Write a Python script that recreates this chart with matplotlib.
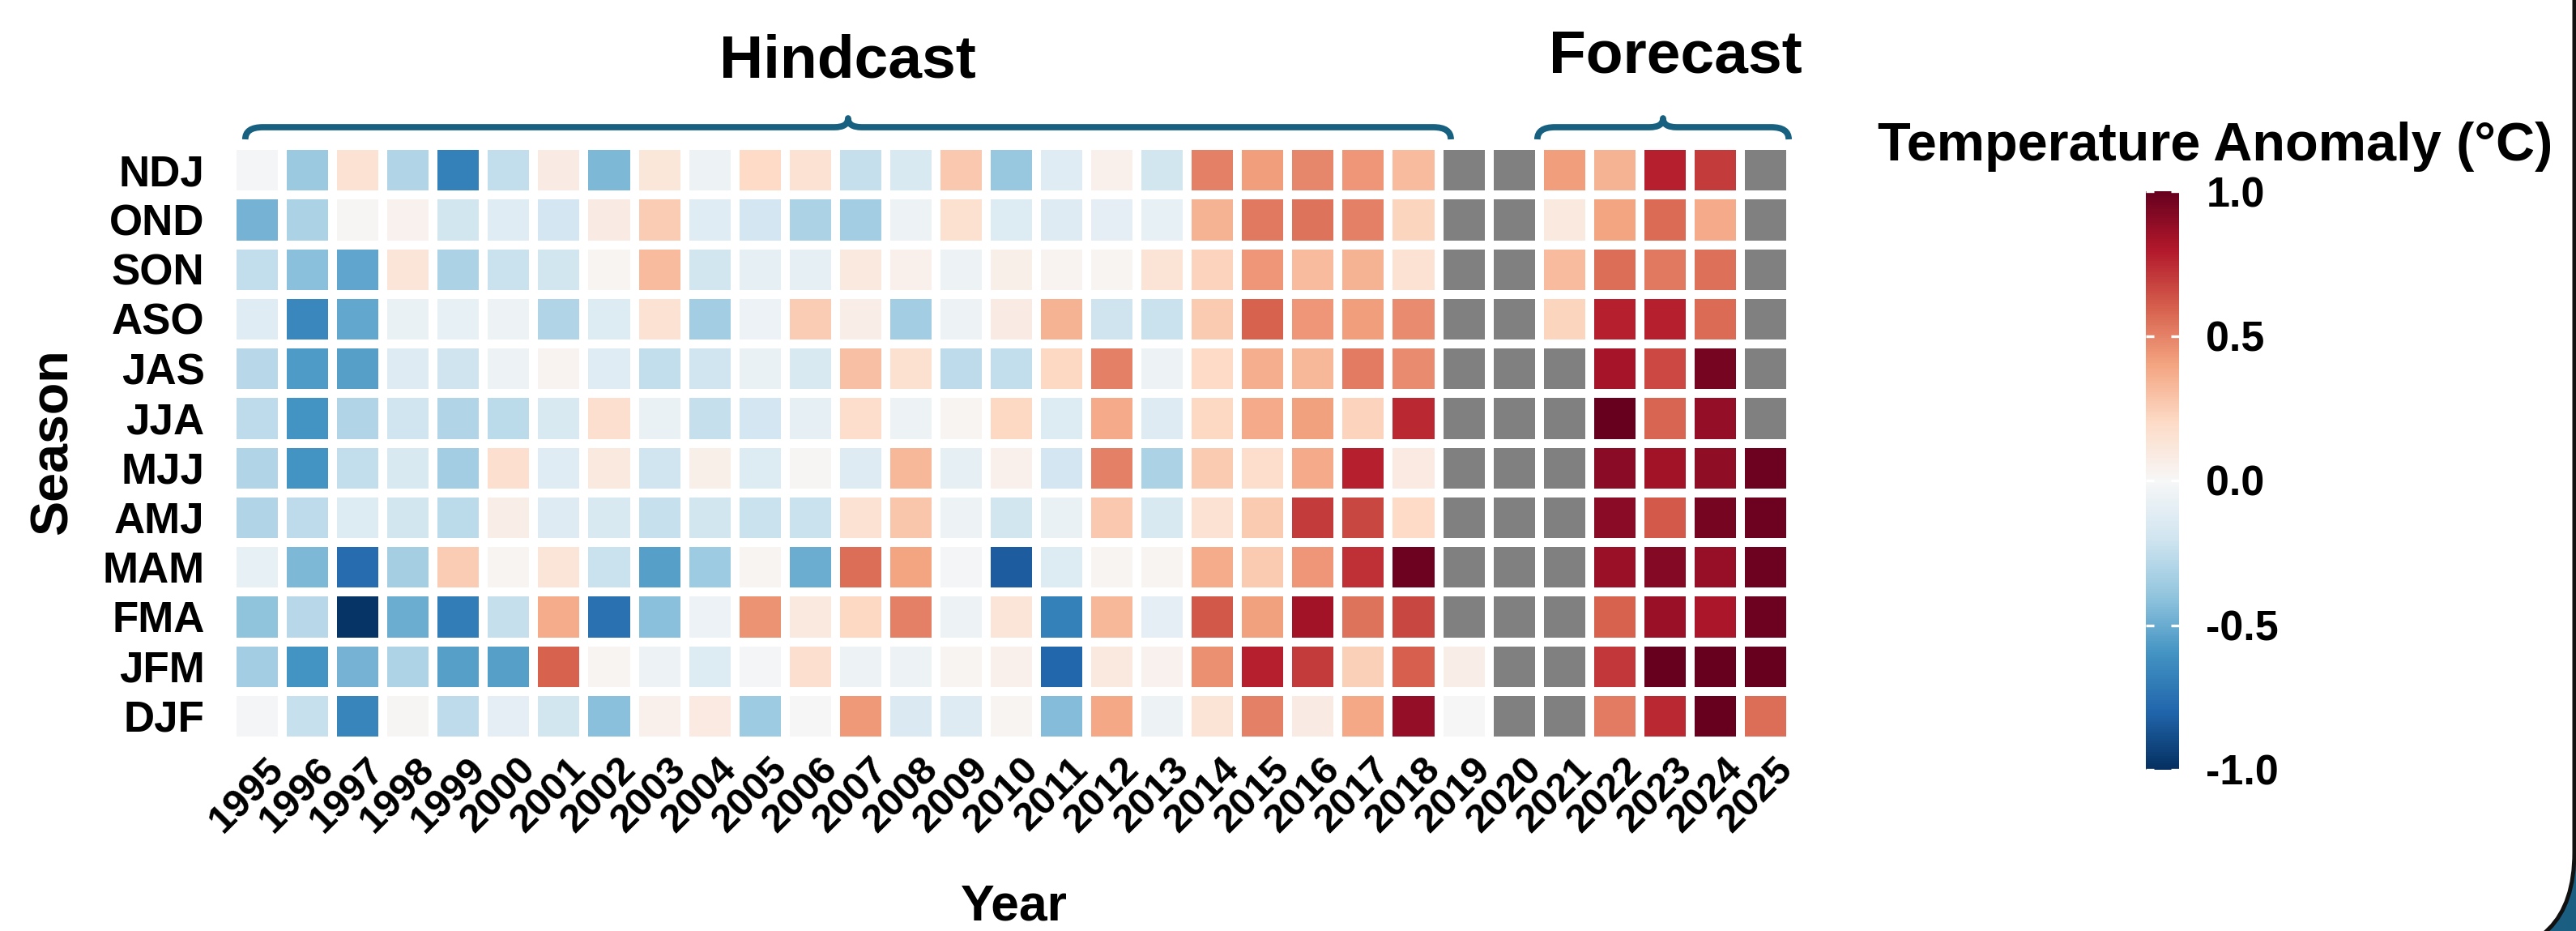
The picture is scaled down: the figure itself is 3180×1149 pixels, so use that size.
import numpy as np
import matplotlib
matplotlib.use("Agg")
import matplotlib.pyplot as plt
import matplotlib.transforms as mtransforms
from matplotlib.path import Path
from matplotlib.patches import PathPatch, FancyBboxPatch, Rectangle

# ---------------------------------------------------------------- data
years = list(range(1995, 2026))
seasons = ["NDJ", "OND", "SON", "ASO", "JAS", "JJA",
           "MJJ", "AMJ", "MAM", "FMA", "JFM", "DJF"]
nan = np.nan

# temperature anomaly (degC) per season, 1995 ... 2025 (nan = no value)
ndj = [-0.02, -0.37, 0.15, -0.30, -0.68, -0.25, 0.08, -0.45, 0.12, -0.05, 0.20,
       0.15, -0.24, -0.16, 0.27, -0.38, -0.12, 0.05, -0.19, 0.50, 0.42, 0.49,
       0.44, 0.32, nan, nan, 0.42, 0.35, 0.78, 0.70, nan]
ond = [-0.47, -0.32, 0.01, 0.04, -0.19, -0.12, -0.18, 0.08, 0.25, -0.12, -0.18,
       -0.32, -0.35, -0.05, 0.16, -0.14, -0.13, -0.10, -0.08, 0.35, 0.53, 0.54,
       0.50, 0.22, nan, nan, 0.10, 0.40, 0.57, 0.38, nan]
son = [-0.25, -0.42, -0.53, 0.13, -0.32, -0.22, -0.19, 0.02, 0.32, -0.19, -0.09,
       -0.09, 0.10, 0.05, -0.05, 0.06, 0.03, 0.02, 0.14, 0.23, 0.44, 0.32,
       0.35, 0.15, nan, nan, 0.32, 0.56, 0.53, 0.55, nan]
aso = [-0.12, -0.65, -0.52, -0.07, -0.08, -0.05, -0.30, -0.14, 0.15, -0.35, -0.06,
       0.25, 0.07, -0.35, -0.05, 0.08, 0.35, -0.21, -0.22, 0.26, 0.59, 0.44,
       0.42, 0.47, nan, nan, 0.22, 0.78, 0.78, 0.57, nan]
jas = [-0.28, -0.57, -0.55, -0.13, -0.21, -0.05, 0.03, -0.12, -0.25, -0.20, -0.07,
       -0.16, 0.30, 0.16, -0.26, -0.25, 0.21, 0.50, -0.05, 0.20, 0.36, 0.33,
       0.52, 0.47, nan, nan, nan, 0.83, 0.66, 0.96, nan]
jja = [-0.26, -0.60, -0.30, -0.20, -0.30, -0.27, -0.16, 0.17, -0.07, -0.24, -0.18,
       -0.09, 0.18, -0.05, 0.02, 0.21, -0.14, 0.38, -0.13, 0.21, 0.38, 0.41,
       0.23, 0.75, nan, nan, nan, 1.00, 0.58, 0.88, nan]
mjj = [-0.30, -0.60, -0.25, -0.16, -0.35, 0.17, -0.12, 0.10, -0.20, 0.06, -0.14,
       0.01, -0.13, 0.33, -0.09, 0.05, -0.18, 0.50, -0.32, 0.26, 0.18, 0.38,
       0.78, 0.09, nan, nan, nan, 0.90, 0.84, 0.89, 0.98]
amj = [-0.30, -0.26, -0.14, -0.19, -0.27, 0.07, -0.13, -0.16, -0.23, -0.19, -0.22,
       -0.22, 0.15, 0.28, -0.05, -0.19, -0.07, 0.27, -0.16, 0.15, 0.26, 0.70,
       0.67, 0.20, nan, nan, nan, 0.90, 0.61, 0.96, 0.98]
mam = [-0.08, -0.45, -0.77, -0.34, 0.25, 0.02, 0.13, -0.22, -0.55, -0.36, 0.02,
       -0.50, 0.56, 0.40, -0.02, -0.83, -0.14, 0.02, 0.02, 0.37, 0.26, 0.44,
       0.73, 0.98, nan, nan, nan, 0.86, 0.92, 0.87, 0.98]
fma = [-0.40, -0.28, -0.98, -0.50, -0.70, -0.24, 0.37, -0.75, -0.42, -0.06, 0.45,
       0.10, 0.21, 0.50, -0.05, 0.13, -0.68, 0.33, -0.10, 0.62, 0.41, 0.84,
       0.54, 0.67, nan, nan, nan, 0.59, 0.86, 0.82, 0.98]
jfm = [-0.35, -0.60, -0.47, -0.31, -0.55, -0.55, 0.59, 0.02, -0.05, -0.14, -0.02,
       0.17, -0.05, -0.05, 0.02, 0.05, -0.79, 0.10, 0.04, 0.46, 0.78, 0.70,
       0.24, 0.60, 0.07, nan, nan, 0.71, 1.00, 1.00, 1.00]
djf = [-0.02, -0.23, -0.66, 0.01, -0.26, -0.10, -0.19, -0.42, 0.05, 0.09, -0.36,
       0.00, 0.43, -0.15, -0.13, 0.02, -0.43, 0.39, -0.05, 0.14, 0.50, 0.08,
       0.39, 0.88, 0.00, nan, nan, 0.52, 0.75, 1.00, 0.56]

cbar_ticks = [-1.0, -0.5, 0.0, 0.5, 1.0]
cbar_labels = ["-1.0", "-0.5", "0.0", "0.5", "1.0"]

anomaly = np.array([ndj, ond, son, aso, jas, jja, mjj, amj, mam, fma, jfm, djf])

# ---------------------------------------------------------------- figure
plt.rcParams["font.family"] = ["Liberation Sans", "DejaVu Sans"]
plt.rcParams["font.weight"] = "bold"

W, H, DPI = 3180, 1149, 300
fig = plt.figure(figsize=(W / DPI, H / DPI), dpi=DPI, facecolor="white")


def fx(px):
    return px / W


def fy(py):
    return 1 - py / H


# rounded slide frame in the lower right corner
frame_blue = "#1a5f82"
fig.add_artist(Rectangle((2950, 0), 260, 260, transform=mtransforms.IdentityTransform(),
                         facecolor=frame_blue, edgecolor="none", zorder=-20))
fig.add_artist(FancyBboxPatch((-400, -29), 3578, H + 429,
                              boxstyle="round,pad=0,rounding_size=126",
                              transform=mtransforms.IdentityTransform(),
                              facecolor="white", edgecolor="#111111",
                              linewidth=1.2, zorder=-10))

# heatmap
ax = fig.add_axes([fx(286), fy(914), fx(2210) - fx(286), fy(179) - fy(914)])
cmap = plt.get_cmap("RdBu_r").with_extremes(bad="#808080")
mesh = ax.pcolormesh(np.arange(len(years) + 1), np.arange(len(seasons) + 1),
                     np.ma.masked_invalid(anomaly), cmap=cmap, vmin=-1, vmax=1,
                     edgecolors="white", linewidth=2.25)
ax.set_xlim(0, len(years))
ax.set_ylim(len(seasons), 0)
for s in ax.spines.values():
    s.set_visible(False)

ax.set_xticks(np.arange(len(years)) + 0.5)
ax.set_xticklabels([str(y) for y in years], rotation=45, fontsize=11.8,
                   fontweight="bold")
ax.set_yticks(np.arange(len(seasons)) + 0.5)
ax.set_yticklabels(seasons, fontsize=12.7, fontweight="bold")
ax.tick_params(axis="x", length=0, pad=3)
ax.tick_params(axis="y", length=0, pad=8)
shift = mtransforms.ScaledTranslation(-12 / DPI, 0, fig.dpi_scale_trans)
for lbl in ax.get_xticklabels():
    lbl.set_transform(lbl.get_transform() + shift)

fig.text(fx(66), fy(545), "Season", rotation=90, ha="center", va="center",
         fontsize=15.5, fontweight="bold")
fig.text(fx(1252), fy(1135), "Year", ha="center", va="baseline",
         fontsize=15, fontweight="bold")

# colorbar
cax = fig.add_axes([fx(2649), fy(950), fx(2690) - fx(2649), fy(236) - fy(950)])
cb = fig.colorbar(mesh, cax=cax, ticks=cbar_ticks)
cb.outline.set_visible(False)
cax.set_yticklabels(cbar_labels, fontsize=12.5, fontweight="bold")
cax.tick_params(axis="y", direction="in", length=2.5, width=0.8, color="white",
                left=True, right=True, pad=8)
fig.text(fx(2735), fy(198), "Temperature Anomaly (\u00b0C)", ha="center",
         va="baseline", fontsize=16, fontweight="bold")

# period braces above the heatmap
brace_color = "#17607f"
btrans = mtransforms.blended_transform_factory(ax.transData, fig.transFigure)


def draw_brace(x0, x1, r=0.35, rm=0.27):
    xm = (x0 + x1) / 2
    yb, yc, yt = fy(172), fy(157), fy(146)
    verts = [(x0, yb), (x0, yc), (x0 + r, yc),
             (xm - rm, yc), (xm, yc), (xm, yt),
             (xm, yc), (xm + rm, yc),
             (x1 - r, yc), (x1, yc), (x1, yb)]
    codes = [Path.MOVETO, Path.CURVE3, Path.CURVE3,
             Path.LINETO, Path.CURVE3, Path.CURVE3,
             Path.CURVE3, Path.CURVE3,
             Path.LINETO, Path.CURVE3, Path.CURVE3]
    patch = PathPatch(Path(verts, codes), transform=btrans, facecolor="none",
                      edgecolor=brace_color, linewidth=1.85, capstyle="butt",
                      joinstyle="round", clip_on=False)
    fig.add_artist(patch)
    return xm


draw_brace(0.27, 24.25)
draw_brace(25.97, 30.97)

fig.text(fx(1046), fy(95), "Hindcast", ha="center", va="baseline",
         fontsize=18, fontweight="bold")
fig.text(fx(2068), fy(90), "Forecast", ha="center", va="baseline",
         fontsize=18, fontweight="bold")

fig.savefig("out.png", dpi=DPI, facecolor="white")
